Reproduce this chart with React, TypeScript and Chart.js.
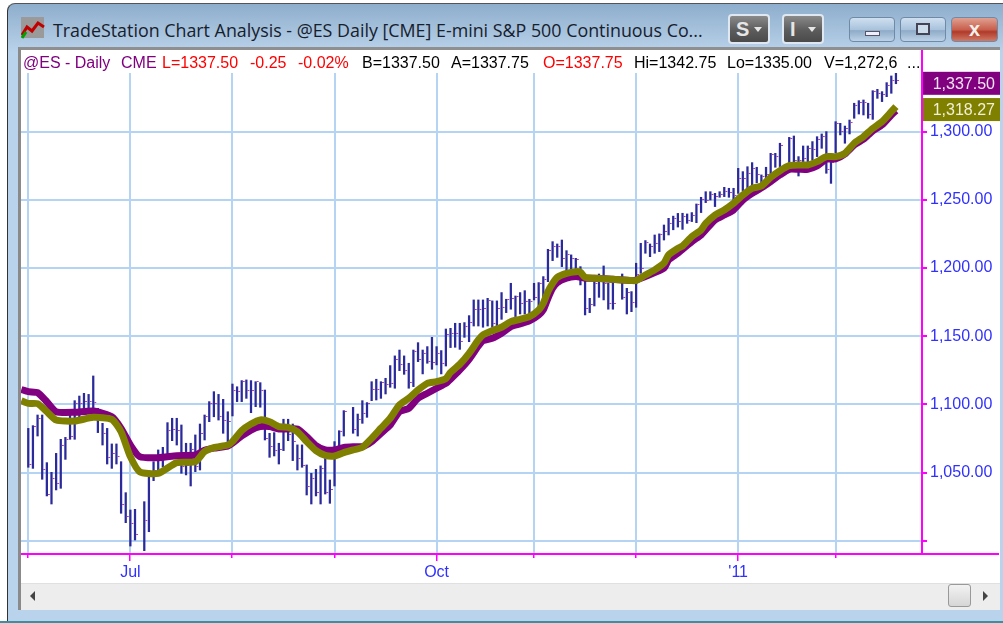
import React, { useEffect, useRef } from "react";
import { Chart, registerables } from "chart.js";

Chart.register(...registerables);

const F = "'Liberation Sans', Arial, sans-serif";

// Daily bars: index 0 .. 187 (null = no bar visible)
const highs = [
  1082.5,1084.5,1092.3,1092.3,1057.4,1050.3,1064.2,1074.5,1075.9,1092.3,1102.8,1106.2,1108.2,1107.4,1120.9,1097.2,1086.2,1082.5,1071.1,1071.1,
  1058.1,1035.4,1022.7,1023.2,null,1028.8,1048.4,1058.1,1066.7,1068.6,1086.7,1089.9,1089.9,1085,1071.6,1071.6,1077.7,1085.7,1092.3,1102.1,
  1109.4,1107.4,1103.8,1094.7,1115,1113,1117.5,1118,1117.5,1116.7,1116,1110.6,1078.9,1079.4,1071.6,1089.2,1089.2,1085.7,1070.4,1070.4,
  1055.7,1049.6,1052.5,1055,1060.6,1044.7,1072.8,1080.8,1095.5,null,1097.9,1093,1102.8,1101.4,1116.7,1118.5,1116.7,1119.2,1128.5,1135.6,
  1139.9,1135.6,1130.2,1139.9,1145.3,1139.9,1142.4,1149.2,1142.4,1139.5,1155.3,1155.8,1159.5,1159.5,1160,1165.1,1176.6,1176.6,1176.6,1177.8,
  1175.9,1175.9,1182,1177.1,1188.8,1179.5,1182,1183.4,1177.1,1188.8,1189.3,1193.7,1213.7,1219.3,1217.6,1220.5,1212.7,1209.6,1207.1,1201,
  1191.2,1177.8,1190,1195.6,1201.5,1188.8,1189.3,null,1195.6,1185.1,1182.7,1203.5,1218.1,1220.1,1217.6,1224.2,1225,1231.5,1236.4,1238,
  1240,1240.1,1239.6,1240.6,1246.9,1251.8,1255.9,1255.9,1254.7,1255.9,1259.1,1258.4,1258.4,1273,1270.6,1274.2,1277.2,1273.8,1268.2,1273.8,
  1284,1284,1291.4,null,1295.7,1296.7,1281.6,1289.4,1289.4,1292.6,1296.2,1298.2,1299.9,1277.9,1307.2,1306,1304,1308.4,1320.7,1322.6,
  1323.1,1320.7,1329.9,1330.9,1329.2,1335.8,1340.7,1342.75,
];
const lows = [
  1054,1053.2,1076.9,1045.2,1033,1027.1,1037.4,1038.6,1059.8,1074.5,1074.5,1091,1093.5,1096,1093.5,1079.4,1070.3,1056.4,1053.2,1056.4,
  1020.3,1013.4,996.3,1000.7,null,992.9,1006.8,1044.2,1048.4,1054.4,1063,1073.5,1070.3,1049.6,1048.4,1040.3,1050.8,1052,1074,1087.4,
  1091,1088.6,1078.9,1072.8,1091.6,1102.1,1102.1,1104.5,1094,1098.4,1098,1074,1061.3,1062.3,1056.4,1066.2,1073.5,1058.9,1052,1054,
  1033.7,1027.1,1033,1027.1,1034.4,1027.6,1040.3,1066.7,1076.9,null,1078.9,1076.9,1086.2,1090.6,1102.8,1103.3,1104.5,1107.7,1112.6,1111.9,
  1124.8,1122.1,1111.9,1113.1,1131.4,1122.4,1130.2,1125.8,1129,1122.4,1128.2,1141.7,1141.9,1140.4,1149.2,1146,1157.5,1157.5,1156.6,1157.5,
  1156.6,1155.8,1162.4,1167.3,1169.8,1164.4,1166.3,1166.3,1166.3,1176.6,1171.2,1174.2,1190,1205.4,1207.8,1201,1196.1,1196.1,1192.5,1187.6,
  1165.6,1167.3,1172.2,1178.5,1176.6,1169.8,1169.8,null,1177.1,1166.3,1168,1171.2,1196.1,1210.8,1208.3,1210.8,1212,1220.5,1224.2,1228,
  1230,1228.3,1232.7,1234,1233.2,1240.6,1247.9,1249.8,1245,1251.8,1252.3,1251.8,1249.8,1254.7,1256.7,1257.2,1260.8,1262.5,1260.1,1264.5,
  1266.9,1273.8,1274.3,null,1276.2,1277.9,1267.4,1277.9,1276.7,1279.1,1281.6,1287.7,1269.4,1262,1284.5,1297.5,1291.4,1298.2,1309.7,1312.8,
  1312.1,1309.7,1308.9,1324.3,1321.9,1325.5,1328,1335,
];
const closes = [
  1055.7,1083.8,1089.9,1052.5,1034.2,1045.9,1042.2,1070.3,1074.5,1076.9,1100.4,1100.9,1102.1,1102.1,1101.3,1096,1078.4,1061,1064.2,1061.8,
  1026.4,1017.8,1012.9,1004.9,null,1014.9,1047.1,1052,1059.3,1060,1080.8,1082,1080.8,1054.5,1055,1066.7,1054.5,1078.9,1091,1100.9,
  1100.9,1091,1088.6,1087.4,1110.6,1109.4,1116.7,1110.6,1110.2,1116.7,1110.2,1075.2,1069.1,1066.2,1067.2,1083.8,1077.7,1072.8,1060.6,1055,
  1039.8,1045.9,1035.4,1053.3,1035.4,1037.9,1064.2,1080.1,1094.8,null,1081.8,1089.2,1093.5,1100.4,1111.1,1111.1,1116,1114.3,1115.5,1132.6,
  1129.4,1124.8,1116,1138.7,1133.1,1137,1131.4,1130.7,1137.5,1130.2,1151,1151.7,1152.2,1146,1157.5,1160,1169.3,1169.3,1170.5,1176.1,
  1159,1170.5,1171.2,1176.6,1177.8,1179,1173.7,1175.4,1175.4,1178.5,1188.3,1191.7,1212.7,1216.1,1215.7,1207.1,1209.6,1207.1,1205.9,1197.3,
  1170.5,1172.9,1188.8,1193.7,1188.8,1174.2,1174.2,null,1178.5,1182,1174.6,1194.9,1199.8,1218.6,1216.1,1218.1,1224.2,1226.7,1232.3,1236,
  1234,1237.6,1234.7,1238.1,1246.2,1250.3,1249.8,1253.5,1252.3,1253.5,1255.9,1255.2,1252.8,1265.7,1265.7,1269.4,1273,1268.2,1266.9,1268.2,
  1282.8,1281.6,1290.1,null,1295,1279.1,1279.1,1280.4,1287.7,1286.5,1294.3,1296.7,1271.8,1277.2,1306,1299.9,1302.3,1306.5,1319.4,1321.1,
  1321.1,1312.1,1329.2,1328,1326.8,1334,1337.3,1337.5,
];

// Moving averages, read at these bar positions
const maIndex = [
  -1.5,0,2,4,6,10,14,18,20,22,24,28,32,36,38,40,43,44,46,48,50,52,54,56,58,60,62,64,66,68,70,72,74,76,78,80,82,84,86,88,90,91,93,95,97,98,
  100,102,104,106,108,110,111,112,113,114,116,118,119,120,122,126,130,131,133,135,137,138,140,141,143,145,146,148,150,152,154,156,158,160,
  162,164,166,168,170,172,174,176,178,180,182,184,186,187,
];
const purpleMA = [
  1111,1109.4,1108.7,1102,1094.7,1094.3,1095.2,1091,1082.5,1070.3,1061.8,1061,1062.5,1063,1066.5,1068,1069.5,1071.6,1076.9,1081.3,1083.8,1083.8,1082.1,1082.1,1082.1,1076.5,1069.9,1066.7,1066.7,1068.6,1069.1,1069.1,1072.8,1078.9,1085,1094.8,1097.2,1104.5,1108.2,1111.9,1115.5,1118.5,1125.3,1133.1,1142.9,1146.8,
  1148.5,1152.2,1157,1159,1161.2,1165.6,1169.3,1177.8,1185.1,1189.3,1192.5,1193.7,1193.2,1192.5,1192.5,1191.7,1190.8,1191.2,1193.7,1196.6,1199.8,1205.9,1210.8,1213.7,1219.3,1224.2,1227.9,1235.2,1238.8,1242.5,1249.8,1254.7,1258.7,1263.3,
  1268.2,1272.3,1272.3,1272.3,1274.7,1279.6,1279.9,1283.5,1290.1,1294.3,1300.4,1304.8,1312.1,1315.3,
];
const oliveMA = [
  1102.8,1100.8,1100.6,1094.7,1088.6,1087.9,1090.6,1089.1,1080,1061.8,1050.8,1049.6,1057.4,1058.1,1065.5,1068.4,1070.3,1072.8,1080.9,1085.7,1088.7,1087.4,1083.8,1083.3,1080.1,1072.8,1066.2,1062.8,1062.3,1064.7,1066.7,1068.6,1075.2,1082.6,1089.9,1099.7,1104.5,1110.6,1115.5,1116.7,1119,1123.5,1129.5,1137.5,1147.3,1151,
  1154.1,1156.6,1160.7,1162.4,1164.4,1169.3,1174.2,1182.7,1188.8,1193.2,1196.1,1197.3,1196.9,1193.2,1192.5,1191.7,1190.8,1190.8,1194.9,1198.6,1203.5,1209.6,1214.4,1216.1,1223,1227.9,1232.7,1238.8,1242.5,1247.4,1253.5,1258.4,1260.1,1266.4,
  1271.3,1275,1275.5,1275.5,1277.9,1281.6,1281.6,1284,1291.4,1296.2,1302.3,1307.2,1314.5,1318.27,
];

const timeTickIndex = [0, 22, 44, 66, 88, 109, 131, 153, 174];
const timeTickLabels = ["", "Jul", "", "", "Oct", "", "", "'11", ""];
const priceTicks = [1000, 1050, 1100, 1150, 1200, 1250, 1300];
const priceTickLabels = ["", "1,050.00", "1,100.00", "1,150.00", "1,200.00", "1,250.00", "1,300.00"];
const lastClose = 1337.5;
const lastOlive = 1318.27;

const headerItems: [string, number, string][] = [
  ["@ES - Daily", 23, "#800080"],
  ["CME", 121, "#800080"],
  ["L=1337.50", 162, "#ff0000"],
  ["-0.25", 250, "#ff0000"],
  ["-0.02%", 298, "#ff0000"],
  ["B=1337.50", 362, "#000000"],
  ["A=1337.75", 451, "#000000"],
  ["O=1337.75", 543, "#ff0000"],
  ["Hi=1342.75", 634, "#000000"],
  ["Lo=1335.00", 727, "#000000"],
  ["V=1,272,6", 824, "#000000"],
  ["...", 907, "#000000"],
];

const MAGENTA = "#ff00ff";
const GRID = "#b5d4f4";
const BLUE = "#3030ff";

const rightTick = (): HTMLCanvasElement => {
  const c = document.createElement("canvas");
  c.width = 8;
  c.height = 1;
  const g = c.getContext("2d")!;
  g.fillStyle = "#b040b0";
  g.fillRect(5, 0, 2, 1);
  return c;
};

const overlay = {
  id: "overlay",
  afterDraw(chart: any) {
    const { ctx, chartArea: a, scales } = chart;
    const xs = scales.x;
    const ys = scales.y;
    ctx.save();
    ctx.fillStyle = MAGENTA;
    ctx.fillRect(a.right, 50, 2, a.bottom - 50);
    ctx.fillRect(a.left, a.bottom, 978, 2);
    timeTickIndex.forEach((v, i) => {
      const px = Math.round(xs.getPixelForValue(v));
      ctx.fillRect(px - 1, a.bottom, 1.5, timeTickLabels[i] ? 8 : 5);
    });
    const tag = (value: number, bg: string, fg: string) => {
      const cy = ys.getPixelForValue(value) + 3;
      ctx.fillStyle = bg;
      ctx.fillRect(a.right + 2, cy - 11.5, 77, 23);
      ctx.fillStyle = fg;
      ctx.font = `16px ${F}`;
      ctx.textAlign = "right";
      ctx.textBaseline = "middle";
      ctx.fillText(value.toLocaleString("en-US", { minimumFractionDigits: 2 }), a.right + 74, cy + 1);
    };
    tag(lastClose, "#800080", "#f0e4f0");
    tag(lastOlive, "#808000", "#f0f0d8");
    ctx.restore();
  },
};

function Btn({ x, w, label, dark, red }: { x: number; w: number; label?: string; dark?: boolean; red?: boolean }) {
  const bg = dark
    ? "linear-gradient(#8a8a8a,#5c5c5c 55%,#4a4a4a)"
    : red
    ? "linear-gradient(#e0a090,#c9604e 50%,#b03a2a 60%,#d07a66)"
    : "linear-gradient(#cfe0f0,#a9c3dc 50%,#8fabc7 55%,#bcd2e8)";
  return (
    <div
      style={{
        position: "absolute",
        left: x,
        top: dark ? 14 : 17,
        width: w,
        height: dark ? 30 : 25,
        boxSizing: "border-box",
        background: bg,
        border: dark ? "2px solid #dfe8f0" : "1px solid #6f8aa6",
        borderRadius: 4,
        color: "#e6e6e6",
        fontFamily: F,
        fontWeight: 700,
        fontSize: 20,
        lineHeight: "26px",
        paddingLeft: 6,
      }}
    >
      {label}
      {dark ? <span style={{ position: "absolute", right: 6, top: 11, borderLeft: "4px solid transparent", borderRight: "4px solid transparent", borderTop: "5px solid #e6e6e6" }} /> : null}
    </div>
  );
}

export default function App() {
  const ref = useRef<HTMLCanvasElement>(null);
  useEffect(() => {
    const tick = rightTick();
    const barData = highs
      .map((h, i) => ({ x: i, y: [lows[i], h] }))
      .filter((d) => d.y[1] !== null);
    const closeData = closes.map((c, i) => ({ x: i, y: c })).filter((d) => d.y !== null);
    const chart = new Chart(ref.current!, {
      type: "bar",
      data: {
        datasets: [
          { type: "line", data: maIndex.map((x, i) => ({ x, y: oliveMA[i] })), borderColor: "#808000", borderWidth: 7, pointRadius: 0, order: 0, tension: 0.2 },
          { type: "line", data: maIndex.map((x, i) => ({ x, y: purpleMA[i] })), borderColor: "#800080", borderWidth: 7, pointRadius: 0, order: 1, tension: 0.2 },
          { type: "line", data: closeData, showLine: false, pointStyle: tick, pointRadius: 4, order: 2 },
          { type: "bar", data: barData, backgroundColor: "#2a2a9c", barThickness: 1.6, order: 3 },
        ] as any,
      },
      options: {
        responsive: false,
        animation: false,
        events: [],
        layout: { padding: { left: 21, top: 73, right: 0, bottom: 0 } },
        plugins: { legend: { display: false }, tooltip: { enabled: false } },
        scales: {
          x: {
            type: "linear",
            min: -1.57,
            max: 192.4,
            offset: false,
            border: { display: false },
            grid: { color: GRID, lineWidth: 2, drawTicks: false, offset: false },
            ticks: {
              autoSkip: false,
              maxRotation: 0,
              padding: 10,
              color: BLUE,
              font: { family: F, size: 16 },
              callback: (v: any) => timeTickLabels[timeTickIndex.indexOf(v)] ?? "",
            },
            afterBuildTicks: (s: any) => {
              s.ticks = timeTickIndex.map((value) => ({ value }));
            },
            afterFit: (s: any) => {
              s.height = 70;
            },
          },
          y: {
            type: "linear",
            position: "right",
            min: 991.2,
            max: 1342.86,
            border: { display: false },
            grid: { color: GRID, lineWidth: 2, tickColor: MAGENTA, tickLength: 6, tickWidth: 2 },
            ticks: {
              padding: 3,
              color: BLUE,
              font: { family: F, size: 16 },
              callback: (v: any) => priceTickLabels[priceTicks.indexOf(v)] ?? "",
            },
            afterBuildTicks: (s: any) => {
              s.ticks = priceTicks.map((value) => ({ value }));
            },
            afterFit: (s: any) => {
              s.width = 82;
            },
          },
        },
      },
      plugins: [overlay],
    } as any);
    return () => chart.destroy();
  }, []);

  return (
    <div style={{ position: "fixed", left: 0, top: 0, width: 1003, height: 623, overflow: "hidden", background: "#fff", filter: "blur(0.35px)" }}>
      {/* window frame */}
      <div style={{ position: "absolute", left: 7, top: 3, width: 996, height: 620, boxSizing: "border-box", borderLeft: "1px solid #333", borderTop: "1px solid #555", borderTopLeftRadius: 8, background: "linear-gradient(#8eaecd 0px,#a9c4de 30px,#bad3ec 48px,#bad3ec 100%)" }} />
      <div style={{ position: "absolute", left: 0, top: 621, width: 1003, height: 2, background: "#3c8f9c" }} />
      <div style={{ position: "absolute", left: 18, top: 47, width: 982, height: 563, background: "#fff", borderLeft: "3px solid #8a8a8a", borderTop: "3px solid #8f8f8f", boxSizing: "border-box" }} />
      {/* title icon */}
      <svg style={{ position: "absolute", left: 21, top: 17 }} width="24" height="22" viewBox="0 0 24 22">
        <rect x="0" y="0" width="23" height="21" fill="#9a9a9a" />
        <polyline points="1,18 6,10 11,14 17,6 23,10" fill="none" stroke="#c00000" strokeWidth="3" />
        <polyline points="1,21 5,15" fill="none" stroke="#00a000" strokeWidth="3" />
      </svg>
      <div style={{ position: "absolute", left: 53, top: 18, whiteSpace: "nowrap", fontFamily: "'Open Sans', sans-serif", fontSize: 17.85, lineHeight: "24px", color: "#16202c" }}>
        TradeStation Chart Analysis - @ES Daily [CME] E-mini S&amp;P 500 Continuous Co...
      </div>
      <Btn x={728} w={42} label="S" dark />
      <Btn x={782} w={42} label="I" dark />
      <Btn x={849} w={46} />
      <Btn x={900} w={46} />
      <Btn x={951} w={47} red />
      <div style={{ position: "absolute", left: 865, top: 31, width: 15, height: 5, background: "#eef", border: "1px solid #556" , boxSizing: "border-box"}} />
      <div style={{ position: "absolute", left: 916, top: 23, width: 14, height: 12, border: "2px solid #445", boxSizing: "border-box", background: "#cdddec" }} />
      <div style={{ position: "absolute", left: 951, top: 17, width: 47, height: 25, textAlign: "center", lineHeight: "25px", fontFamily: F, fontWeight: 700, fontSize: 20, color: "#f4efe8" }}>x</div>
      <canvas ref={ref} width={1003} height={623} style={{ position: "absolute", left: 0, top: 0, display: "block" }} />
      {headerItems.map(([t, x, c]) => (
        <span key={t} style={{ position: "absolute", left: x, top: 54, fontFamily: F, fontSize: 16, lineHeight: "18px", color: c, whiteSpace: "nowrap" }}>
          {t}
        </span>
      ))}
      {/* scrollbar */}
      <div style={{ position: "absolute", left: 21, top: 583, width: 979, height: 27, background: "#ededed", borderTop: "1px solid #e0e0e0", boxSizing: "border-box" }} />
      <div style={{ position: "absolute", left: 30, top: 591, borderRight: "5px solid #444", borderTop: "5px solid transparent", borderBottom: "5px solid transparent" }} />
      <div style={{ position: "absolute", left: 983, top: 591, borderLeft: "5px solid #444", borderTop: "5px solid transparent", borderBottom: "5px solid transparent" }} />
      <div style={{ position: "absolute", left: 948, top: 584, width: 23, height: 23, boxSizing: "border-box", border: "1px solid #999", borderRadius: 3, background: "linear-gradient(#f2f2f2,#d6d6d6)" }} />
    </div>
  );
}
